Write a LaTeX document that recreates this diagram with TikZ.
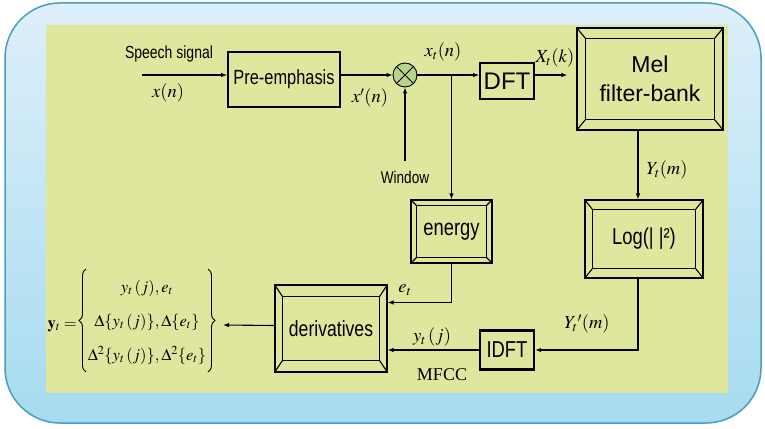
\documentclass[tikz,border=0pt]{standalone}
\usepackage{mathptmx}
\usepackage[no-math]{fontspec}
\newfontfamily\sfn{Liberation Sans}
\newfontfamily\sfc[FakeStretch=0.8]{Liberation Sans}
\newfontfamily\tms{Liberation Serif}
\usetikzlibrary{arrows.meta,calc,decorations.pathreplacing}
\definecolor{bgtop}{HTML}{DDEFFA}
\definecolor{bgbot}{HTML}{A6DBEF}
\definecolor{bordc}{HTML}{4A9EC0}
\definecolor{panel}{HTML}{DFE79F}
\definecolor{mulc}{HTML}{B8D48C}
\newcommand\bevel[3]{%
  \draw[frame] ($(#1.north west)+(#2pt,-#3pt)$) rectangle ($(#1.south east)+(-#2pt,#3pt)$);
  \draw[frame] (#1.north west) -- ++(#2pt,-#3pt);
  \draw[frame] (#1.north east) -- ++(-#2pt,-#3pt);
  \draw[frame] (#1.south west) -- ++(#2pt,#3pt);
  \draw[frame] (#1.south east) -- ++(-#2pt,#3pt);
}
\begin{document}
\begin{tikzpicture}[x=1pt,y=-1pt,
  arr/.style={-{Latex[length=6pt,width=4.5pt]},line width=1.1pt},
  plainbox/.style={draw,line width=1.8pt,inner sep=0pt},
  bevbox/.style={draw,line width=1.1pt,inner sep=0pt},
  frame/.style={line width=1.1pt},
  lab/.style={inner sep=0pt,font=\fontsize{18.5}{20}\selectfont},
  eqrow/.style={inner sep=0pt,font=\fontsize{16.5}{18}\selectfont},
  curly/.style={decorate,decoration={brace,amplitude=7pt},line width=0.9pt}]
\useasboundingbox (0,0) rectangle (765,428);
\path[draw=bordc,line width=1.5pt,top color=bgtop,bottom color=bgbot,rounded corners=55pt] (5,3) rectangle (761,423);
\fill[panel] (46,25) rectangle (728,393);

\node[plainbox,minimum width=112pt,minimum height=55pt,font=\sfc\fontsize{20.5}{22}\selectfont] (pre) at (284,79.5) {Pre-emphasis};
\node[circle,draw,line width=0.9pt,fill=mulc,minimum size=24pt,inner sep=0pt] (mul) at (405,75) {};
\draw[line width=0.9pt] (mul.north west) -- (mul.south east) (mul.north east) -- (mul.south west);
\node[plainbox,minimum width=54pt,minimum height=36pt,font=\sfn\fontsize{24}{26}\selectfont] (dft) at (507,81) {DFT};
\node[bevbox,minimum width=146pt,minimum height=102pt,align=center,font=\sfn\fontsize{23}{29}\selectfont] (mel) at (650,79) {Mel\\filter-bank};
\bevel{mel}{9}{11}
\node[bevbox,minimum width=81pt,minimum height=63pt,font=\sfc\fontsize{23}{25}\selectfont] (en) at (451.5,231.5) {energy};
\bevel{en}{6}{6}
\node[bevbox,minimum width=118pt,minimum height=78pt,font=\sfc\fontsize{23}{25}\selectfont] (log) at (644,239) {Log(| |²)};
\bevel{log}{8}{10}
\node[plainbox,line width=2.4pt,minimum width=54pt,minimum height=39pt,font=\sfc\fontsize{23}{25}\selectfont] (idft) at (507,350) {IDFT};
\node[bevbox,minimum width=112pt,minimum height=87pt,font=\sfc\fontsize{22}{24}\selectfont] (der) at (331,328.5) {derivatives};
\bevel{der}{8}{12}

% output equation
\node[eqrow,anchor=east] (eqlhs) at (77,326) {$\mathbf{y}_t=$};
\node[eqrow] (eqr1) at (147,288) {$y_t\,(j),e_t$};
\node[eqrow] (eqr2) at (147,322) {$\Delta\{y_t\,(j)\},\Delta\{e_t\}$};
\node[eqrow] (eqr3) at (147,355) {$\Delta^2\{y_t\,(j)\},\Delta^2\{e_t\}$};
\coordinate (bl1) at (86,372);
\coordinate (bl2) at (86,269);
\coordinate (br1) at (208,269);
\coordinate (br2) at (208,372);
\coordinate (eqtip) at (223,325);
\draw[curly] (bl1) -- (bl2);
\draw[curly] (br1) -- (br2);

\node[font=\sfc\fontsize{17.5}{19}\selectfont] (sp) at (169,54) {Speech signal};
\node[lab] (lxn) at (168,93) {$x(n)$};
\node[lab] (lxpn) at (370,98) {$x'(n)$};
\node[lab] (lxt) at (443,52) {$x_t(n)$};
\node[lab] (lXt) at (555,58) {$X_t(k)$};
\node[lab] (lYt) at (667,170) {$Y_t(m)$};
\node[lab] (let) at (405,290) {$e_t$};
\node[lab] (lYp) at (587,324) {$Y_t{}'(m)$};
\node[lab] (lyj) at (432,337) {$y_t\,(j)$};
\node[font=\tms\fontsize{18}{20}\selectfont] (mfcc) at (442,375) {MFCC};
\node[font=\sfc\fontsize{17}{19}\selectfont] (win) at (405,177) {Window};

\coordinate (in) at (142,75);
\coordinate (br) at (451.5,75);
\draw[arr] (in) -- (in -| pre.west);
\draw[arr] (mul.west -| pre.east) -- (mul.west);
\draw[arr,shorten <=6pt] (win.north) -- (mul.south);
\draw[arr] (mul.east) -- (mul.east -| dft.west);
\draw[arr] (br) -- (en.north);
\draw[arr,shorten >=9pt] (dft.east |- mul.east) -- (mul.east -| mel.west);
\draw[arr] ([xshift=-6pt]log.north |- mel.south) -- ([xshift=-6pt]log.north);
\draw[arr] ([xshift=-6pt]log.south) |- (idft.east);
\draw[arr] (en.south) |- ([yshift=26pt]der.east);
\draw[arr] (idft.west) -- (idft.west -| der.east);
\draw[arr] ([yshift=3pt]der.west) -- (eqtip);
\end{tikzpicture}
\end{document}
